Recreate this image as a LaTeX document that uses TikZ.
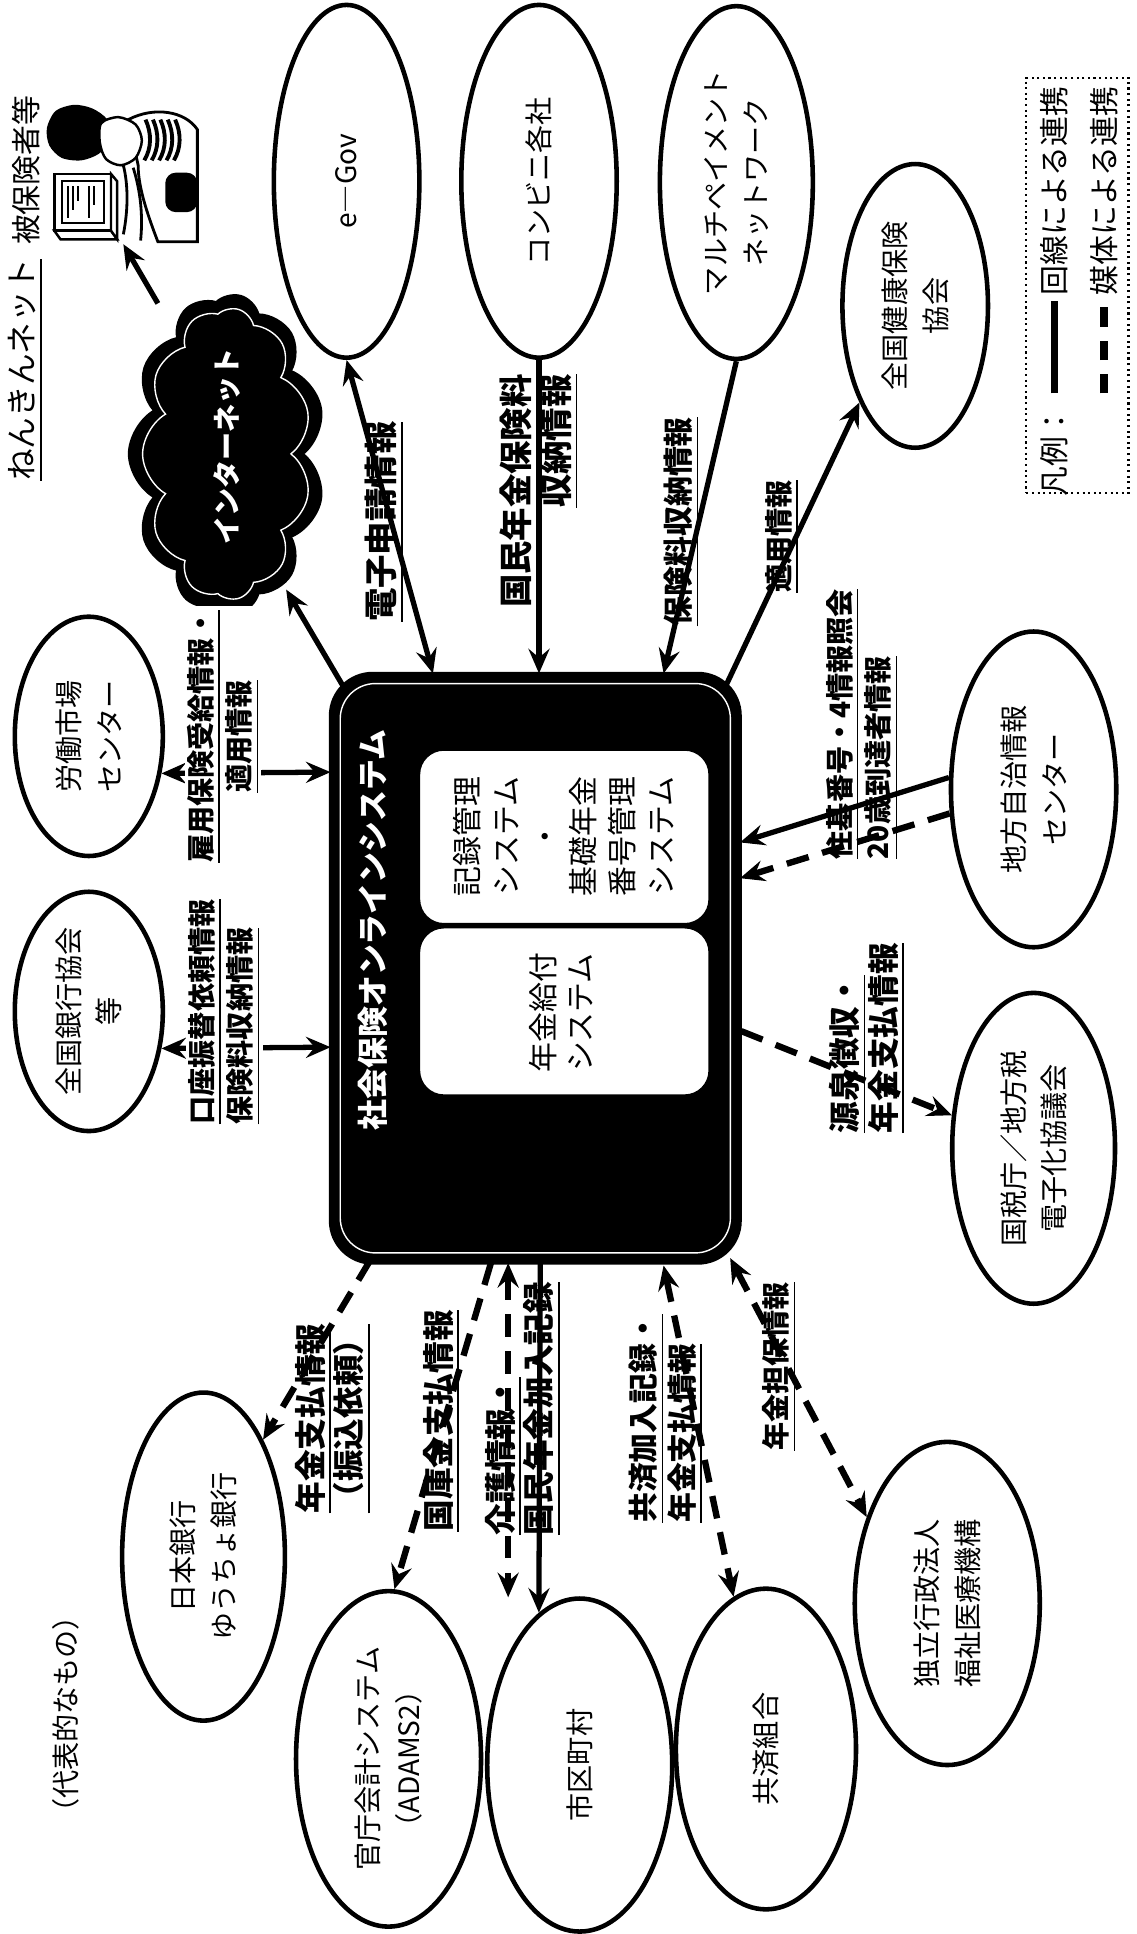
\documentclass[tikz,border=0pt]{standalone}
\usepackage{fontspec}
\setmainfont{Noto Sans CJK JP}
\usetikzlibrary{shapes.geometric,shapes.symbols,arrows.meta,calc}

\tikzset{
  ell/.style 2 args={draw, ellipse, line width=1.3pt, inner sep=0pt,
    minimum width={#1*0.70188pt}, minimum height={#2*0.70188pt}},
  etext/.style={rotate=90, align=center, inner sep=1pt,
    font=\fontsize{8}{11.5}\selectfont},
  lbl/.style={rotate=90, inner sep=1pt,
    font=\bfseries\fontsize{8}{11}\selectfont},
  lblL/.style={rotate=90, inner sep=1pt,
    font=\bfseries\fontsize{9}{11}\selectfont},
  link/.style={line width=1.5pt},
  media/.style={line width=1.8pt, dash pattern=on 6.5pt off 4pt},
}

\begin{document}
\begin{tikzpicture}[x=0.35094pt, y=-0.35094pt,
  >={Stealth[length=7pt,width=6pt,inset=2.5pt]}]
\useasboundingbox (0,0) rectangle (921,1568);
\fill[white] (0,0) rectangle (921,1568);

% ---------- central system ----------
\node[draw, fill=black, line width=1pt, rounded corners=12pt,
      minimum width=116.5pt, minimum height=167.7pt] (sys) at (434,785) {};
\node[draw=white, line width=0.4pt, rounded corners=10pt,
      minimum width=111pt, minimum height=162pt] (sysrim) at (434,785) {};
\node[fill=white, draw=black, line width=0.5pt, rounded corners=7pt,
      minimum width=82.5pt, minimum height=49.5pt] (rec) at (457.5,678.5) {};
\node[fill=white, draw=black, line width=0.5pt, rounded corners=7pt,
      minimum width=82.5pt, minimum height=47.7pt] (pen) at (457.5,820) {};
\node[rotate=90, text=white, font=\bfseries\fontsize{8.8}{10}\selectfont]
      (title) at (302,754) {社会保険オンラインシステム};
\node[rotate=90, align=center, font=\fontsize{8.5}{11}\selectfont]
      (rectxt) at (457,678) {記録管理\\システム\\・\\基礎年金\\番号管理\\システム};
\node[rotate=90, align=center, font=\fontsize{8.5}{10.5}\selectfont]
      (pentxt) at (455,821) {年金給付\\システム};

% ---------- partner organisations ----------
\node[ell={59}{143}] (egov)     at (281,147) {};
\node[ell={63}{143}] (konbini)  at (437,147) {};
\node[ell={62}{143}] (multi)    at (597,148) {};
\node[ell={59}{115}] (kenpo)    at (742,248) {};
\node[ell={60}{97}]  (rodo)     at (72,597)  {};
\node[ell={60}{97}]  (ginko)    at (72,820)  {};
\node[ell={67}{128}] (chiho)    at (838,640) {};
\node[ell={66}{126}] (kokuzei)  at (838,931) {};
\node[ell={66}{133}] (nichigin) at (165,1262) {};
\node[ell={75}{136}] (kancho)   at (315,1426) {};
\node[ell={75}{135}] (shiku)    at (470,1431) {};
\node[ell={73}{130}] (kyosai)   at (621,1418) {};
\node[ell={75}{131}] (fukushi)  at (768,1300) {};

\node[etext] (egovt)     at (egov)     {e―Gov};
\node[etext] (konbinit)  at (konbini)  {コンビニ各社};
\node[etext] (multit)    at (multi)    {マルチペイメント\\ネットワーク};
\node[etext] (kenpot)    at (kenpo)    {全国健康保険\\協会};
\node[etext] (rodot)     at (rodo)     {労働市場\\センター};
\node[etext] (ginkot)    at (ginko)    {全国銀行協会\\等};
\node[etext] (chihot)    at (chiho)    {地方自治情報\\センター};
\node[etext] (kokuzeit)  at (kokuzei)  {国税庁／地方税\\電子化協議会};
\node[etext] (nichigint) at (nichigin) {日本銀行\\ゆうちょ銀行};
\node[etext] (kanchot)   at (kancho)   {官庁会計システム\\（ADAMS2）};
\node[etext] (shikut)    at (shiku)    {市区町村};
\node[etext] (kyosait)   at (kyosai)   {共済組合};
\node[etext] (fukushit)  at (fukushi)  {独立行政法人\\福祉医療機構};
\node[etext] (daihyo)    at (53,1390)  {（代表的なもの）};

% ---------- internet and insured person ----------
\node[cloud, cloud puffs=11, cloud puff arc=120, cloud ignores aspect,
      rotate=90, fill=black, draw=black, minimum width=91pt, minimum height=56pt]
      (net) at (184,368) {};
\node[cloud, cloud puffs=11, cloud puff arc=120, cloud ignores aspect,
      rotate=90, draw=white, line width=0.4pt, minimum width=83pt, minimum height=48pt]
      (netrim) at (184,368) {};
\node[rotate=90, text=white, font=\bfseries\fontsize{8}{9}\selectfont]
      (nett) at (184,362) {インターネット};

\node[rotate=90, font=\fontsize{9}{10}\selectfont] (nenkin) at (21,300)
      {\underline{ねんきんネット}};
\node[rotate=90, font=\fontsize{8.5}{10}\selectfont] (hihoken) at (21,138)
      {被保険者等};

% person at a terminal
\draw[line width=0.7pt, fill=white] (44,141) rectangle (90,187);
\draw[line width=0.7pt, fill=white] (44,187) -- (49,194) -- (95,194) -- (90,187) -- cycle;
\draw[line width=0.7pt, fill=white] (90,141) -- (95,147) -- (95,194) -- (90,187) -- cycle;
\draw[line width=0.6pt] (50,147) rectangle (84,181);
\draw[line width=0.5pt] (55,151) -- (55,177) (59,151) -- (59,170) (63,151) -- (63,163)
      (72,151) -- (72,177) (76,151) -- (76,166);
\fill plot[smooth cycle] coordinates {(38,104) (45,90) (60,85) (75,88) (87,97)
      (89,111) (81,124) (66,130) (50,128) (40,118)};
\draw[line width=0.8pt, fill=white] (104,97) .. controls (125,86) and (150,90) .. (160,105)
      -- (160,196) -- (128,196) .. controls (118,170) and (112,150) .. (112,134) -- cycle;
\draw[line width=0.7pt, fill=white] plot[smooth cycle] coordinates {(82,100) (96,95)
      (110,101) (115,114) (110,128) (98,134) (86,129) (81,116)};
\foreach \s in {0,6,12,18,24} {
  \draw[line width=1.1pt] (118+\s,97) .. controls (123+\s,108) and (123+\s,120) .. (117+\s,130);
}
\fill[rounded corners=3pt] (134,140) rectangle (160,172);
\draw[line width=0.8pt] (100,134) .. controls (104,150) and (104,170) .. (100,190);
\draw[line width=0.8pt] (108,136) .. controls (114,155) and (116,175) .. (114,195);

% ---------- connector end points on the system box ----------
\coordinate (sNW) at (278,556);
\coordinate (sT1) at (351,546);
\coordinate (sT2) at (437,546);
\coordinate (sT3) at (538,546);
\coordinate (sNE) at (588,557);
\coordinate (sW1) at (268,626);
\coordinate (sW2) at (268,849);
\coordinate (sE1) at (600,683);
\coordinate (sE2) at (600,712);
\coordinate (sE3) at (601,836);
\coordinate (sB1) at (300,1022);
\coordinate (sB2) at (398,1024);
\coordinate (sB3) at (412,1024);
\coordinate (sB4) at (438,1024);
\coordinate (sB5) at (538,1026);
\coordinate (sSE) at (592,1020);
\coordinate (netA) at (232,478);
\coordinate (netB) at (128,246);
\coordinate (pcA) at (100,198);
\coordinate (shikuA) at (412,1295);

% ---------- connectors ----------
\draw[link,->]  (sNW) -- (netA);
\draw[link,->]  (netB) -- (pcA);
\draw[link,<->] (egov.south) -- (sT1);
\draw[link,->]  (konbini.south) -- (sT2);
\draw[link,->]  (multi.south) -- (sT3);
\draw[link,->]  (sNE) -- (kenpo.240);
\draw[link,<->] (rodo.-27) -- (sW1);
\draw[link,<->] (ginko.-27) -- (sW2);
\draw[link,->]  (chiho.172) -- (sE1);
\draw[media,->] (chiho.196) -- (sE2);
\draw[media,->] (sE3) -- (kokuzei.158);
\draw[media,->] (sB1) -- (nichigin.63);
\draw[media,->] (sB2) -- (kancho.88);
\draw[media,<->] (sB3) -- (shikuA);
\draw[link,->]  (sB4) -- (shiku.105);
\draw[media,<->] (sB5) -- (kyosai.102);
\draw[media,<->] (sSE) -- (fukushi.133);

% ---------- flow labels ----------
\node[lbl, font=\bfseries\fontsize{9.5}{11}\selectfont] (l1) at (312,423)
      {\underline{電子申請情報}};
\node[lbl, font=\bfseries\fontsize{9.5}{11.5}\selectfont, align=right, anchor=east]
      (l2) at (437,300) {\underline{国民年金保険料}\\\underline{収納情報}};
\node[lbl, font=\bfseries\fontsize{8.5}{11}\selectfont] (l3) at (553,423)
      {\underline{保険料収納情報}};
\node[lbl] (l4) at (634,435) {\underline{適用情報}};
\node[lbl, align=center, fill=white, inner ysep=0.5pt] (l5) at (181,597)
      {\underline{雇用保険受給情報・}\\\underline{適用情報}};
\node[lbl, align=left, anchor=west, fill=white, inner ysep=0.5pt] (l6) at (182,915)
      {\underline{口座振替依頼情報}\\\underline{保険料収納情報}};
\node[lbl, align=left, anchor=west] (l7) at (699,700)
      {\underline{住基番号・4情報照会}\\\underline{20歳到達者情報}};
\node[lblL, align=left, anchor=west] (l8) at (703,922)
      {\underline{源泉徴収・}\\\underline{年金支払情報}};
\node[lblL, align=center] (l9) at (270,1150)
      {\underline{年金支払情報}\\\underline{（振込依頼）}};
\node[lblL] (l10) at (358,1152) {\underline{国庫金支払情報}};
\node[lblL, align=left, anchor=west] (l11) at (424,1248)
      {\underline{介護情報・}\\\underline{国民年金加入記録}};
\node[lbl, font=\bfseries\fontsize{8.5}{11}\selectfont, align=left, anchor=west]
      (l12) at (540,1238) {\underline{共済加入記録・}\\\underline{年金支払情報}};
\node[lbl] (l13) at (632,1108) {\underline{年金担保情報}};

% ---------- legend ----------
\node[draw, densely dotted, line width=0.6pt, minimum width=29.1pt,
      minimum height=118.3pt] (legend) at (873.5,231.5) {};
\node[rotate=90, font=\fontsize{8.5}{10}\selectfont] (leg0) at (855,366) {凡例：};
\coordinate (lgA) at (855,319);
\coordinate (lgB) at (855,244);
\coordinate (lgC) at (895,319);
\coordinate (lgD) at (895,244);
\draw[line width=1.8pt] (lgA) -- (lgB);
\draw[line width=2.2pt, dash pattern=on 5.5pt off 4pt] (lgC) -- (lgD);
\node[rotate=90, font=\fontsize{8.5}{10}\selectfont] (leg1) at (855,155) {回線による連携};
\node[rotate=90, font=\fontsize{8.5}{10}\selectfont] (leg2) at (895,155) {媒体による連携};
\end{tikzpicture}
\end{document}
